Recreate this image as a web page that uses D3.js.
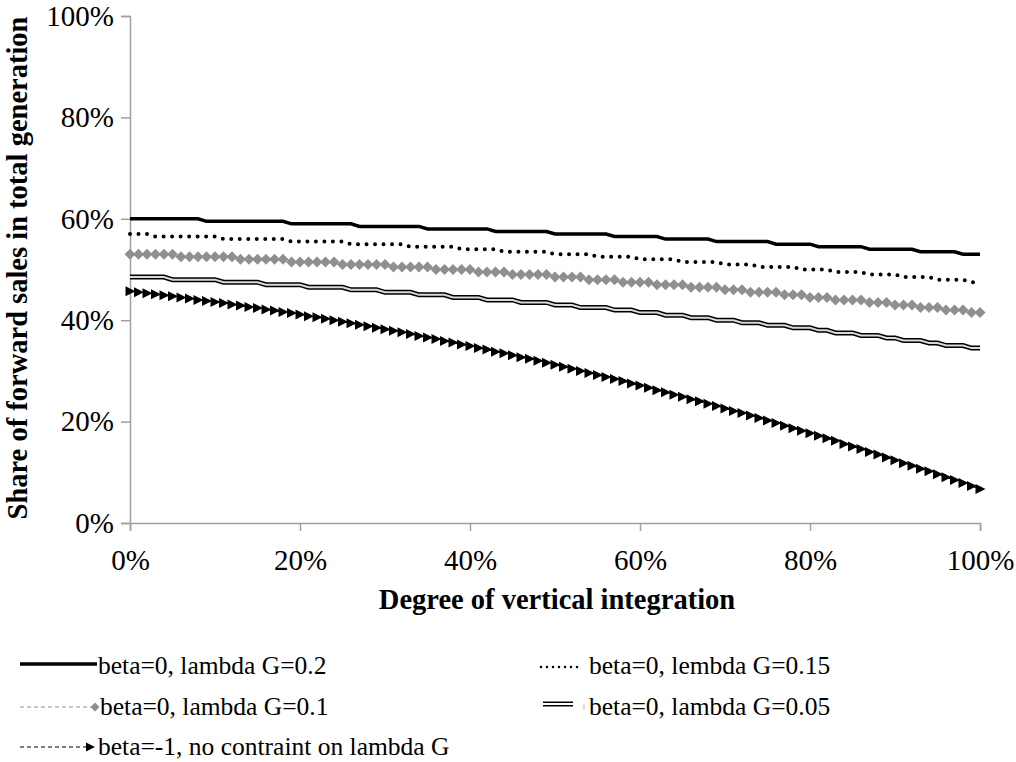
<!DOCTYPE html>
<html><head><meta charset="utf-8">
<script src="https://cdn.jsdelivr.net/npm/d3@7"></script>
<style>body{margin:0;background:#fff}svg{display:block}svg text{font-family:"Liberation Serif","Times New Roman",serif}</style>
</head><body><svg id="c" width="1016" height="762" font-family="Liberation Serif, serif"></svg>
<script>
// x: degree of vertical integration, in percent (0..100 step 1)
const xPoints = d3.range(0, 101);
const yTicks = [0, 20, 40, 60, 80, 100];
const xTicks = [0, 20, 40, 60, 80, 100];
const seriesNames = [
  "beta=0, lambda G=0.2",
  "beta=0, lembda G=0.15",
  "beta=0, lambda G=0.1",
  "beta=0, lambda G=0.05",
  "beta=-1, no contraint on lambda G"
];
const s1 = [60,60,60,60,60,60,60,60,60,
59.5,59.5,59.5,59.5,59.5,59.5,59.5,59.5,59.5,59.5,
59,59,59,59,59,59,59,59,
58.5,58.5,58.5,58.5,58.5,58.5,58.5,58.5,
58,58,58,58,58,58,58,58,
57.5,57.5,57.5,57.5,57.5,57.5,57.5,
57,57,57,57,57,57,57,
56.5,56.5,56.5,56.5,56.5,56.5,
56,56,56,56,56,56,
55.5,55.5,55.5,55.5,55.5,55.5,55.5,
55,55,55,55,55,
54.5,54.5,54.5,54.5,54.5,54.5,
54,54,54,54,54,54,
53.5,53.5,53.5,53.5,53.5,
53,53,53];
const s2 = [57,57,57,
56.5,56.5,56.5,56.5,56.5,56.5,56.5,56.5,
56,56,56,56,56,56,56,56,
55.5,55.5,55.5,55.5,55.5,55.5,55.5,
55,55,55,55,55,55,55,
54.5,54.5,54.5,54.5,54.5,54.5,
54,54,54,54,54,
53.5,53.5,53.5,53.5,53.5,53.5,
53,53,53,53,53,
52.5,52.5,52.5,52.5,52.5,
52,52,52,52,52,
51.5,51.5,51.5,51.5,51.5,
51,51,51,51,
50.5,50.5,50.5,50.5,50.5,
50,50,50,50,
49.5,49.5,49.5,49.5,
49,49,49,49,
48.5,48.5,48.5,48.5,
48,48,48,48,
47.5,47.5];
const s3 = [53,53,53,53,53,53,
52.5,52.5,52.5,52.5,52.5,52.5,52.5,
52,52,52,52,52,52,
51.5,51.5,51.5,51.5,51.5,51.5,
51,51,51,51,51,51,
50.5,50.5,50.5,50.5,50.5,
50,50,50,50,50,
49.5,49.5,49.5,49.5,
49,49,49,49,49,
48.5,48.5,48.5,48.5,
48,48,48,48,
47.5,47.5,47.5,47.5,
47,47,47,47,
46.5,46.5,46.5,46.5,
46,46,46,
45.5,45.5,45.5,45.5,
45,45,45,
44.5,44.5,44.5,
44,44,44,44,
43.5,43.5,43.5,
43,43,43,
42.5,42.5,42.5,
42,42,42,
41.5,41.5];
const s4 = [48.5,48.5,48.5,48.5,48.5,
48,48,48,48,48,48,
47.5,47.5,47.5,47.5,47.5,
47,47,47,47,47,
46.5,46.5,46.5,46.5,46.5,
46,46,46,46,
45.5,45.5,45.5,45.5,
45,45,45,45,
44.5,44.5,44.5,44.5,
44,44,44,44,
43.5,43.5,43.5,43.5,
43,43,43,
42.5,42.5,42.5,42.5,
42,42,42,
41.5,41.5,41.5,
41,41,41,
40.5,40.5,40.5,
40,40,40,
39.5,39.5,39.5,
39,39,39,
38.5,38.5,38.5,
38,38,
37.5,37.5,37.5,
37,37,37,
36.5,36.5,
36,36,36,
35.5,35.5,
35,35,35,
34.5,34.5];
const s5 = [45.7,45.5,45.3,45.1,44.9,44.7,44.5,44.3,44.0,43.8,
43.6,43.4,43.1,42.9,42.6,42.4,42.1,41.9,41.6,41.4,
41.1,40.8,40.6,40.3,40.0,39.7,39.4,39.1,38.8,38.5,
38.2,37.9,37.6,37.3,36.9,36.6,36.3,35.9,35.6,35.2,
34.9,34.5,34.2,33.8,33.5,33.1,32.7,32.4,32.0,31.6,
31.2,30.8,30.4,30.0,29.6,29.2,28.8,28.4,28.0,27.5,
27.1,26.7,26.2,25.8,25.3,24.9,24.4,24.0,23.5,23.1,
22.6,22.1,21.7,21.2,20.7,20.2,19.7,19.2,18.7,18.2,
17.7,17.2,16.7,16.2,15.6,15.1,14.6,14.0,13.5,12.9,
12.4,11.8,11.3,10.7,10.2,9.6,9.0,8.5,7.9,7.3,
6.7];

const FONT = '"Liberation Serif", "Times New Roman", serif';
const svg = d3.select("#c");
svg.append("rect").attr("width",1016).attr("height",762).attr("fill","#fff");

const x = d3.scaleLinear().domain([0,100]).range([130,980]);
const y = d3.scaleLinear().domain([0,100]).range([523,16]);
const AX = "#a0a0a0";

// Y axis
const gy = svg.append("g").attr("transform","translate(130,0)")
  .call(d3.axisLeft(y).tickValues(yTicks).tickSize(9).tickPadding(7).tickFormat(d=>d+"%"));
// X axis
const gx = svg.append("g").attr("transform","translate(0,523)")
  .call(d3.axisBottom(x).tickValues(xTicks).tickSize(8).tickPadding(18).tickFormat(d=>d+"%"));
[gx,gy].forEach(g=>{
  g.attr("font-family",FONT).attr("font-size",29);
  g.select(".domain").attr("stroke",AX).attr("stroke-width",1.5);
  g.selectAll(".tick line").attr("stroke",AX).attr("stroke-width",1.5);
  g.selectAll(".tick text").attr("fill","#000").attr("font-family",FONT).attr("font-size",29);
});

const line = d3.line().x((d,i)=>x(xPoints[i])).y(d=>y(d));
const plot = svg.append("g");

// series 4: double line
plot.append("path").datum(s4).attr("d",line).attr("fill","none").attr("stroke","#000").attr("stroke-width",5);
plot.append("path").datum(s4).attr("d",line).attr("fill","none").attr("stroke","#d9d9d9").attr("stroke-width",2);

// series 1: thick solid
plot.append("path").datum(s1).attr("d",line).attr("fill","none").attr("stroke","#000").attr("stroke-width",3.5);

// series 2: round dotted
plot.append("path").datum(s2).attr("d",line).attr("fill","none").attr("stroke","#000")
  .attr("stroke-width",4).attr("stroke-linecap","round").attr("stroke-dasharray","0,8.5");

// series 3: gray dashed with diamonds
const GRAY = "#8f8f8f";
plot.append("path").datum(s3).attr("d",line).attr("fill","none").attr("stroke",GRAY)
  .attr("stroke-width",1).attr("stroke-dasharray","4,3");
const diamond = "M0,-5.5L5.5,0L0,5.5L-5.5,0Z";
plot.selectAll(".dm").data(s3).join("path").attr("class","dm")
  .attr("transform",(d,i)=>`translate(${x(xPoints[i])},${y(d)})`).attr("d",diamond).attr("fill",GRAY);

// series 5: black dashed with right-pointing triangles
plot.append("path").datum(s5).attr("d",line).attr("fill","none").attr("stroke","#000")
  .attr("stroke-width",1).attr("stroke-dasharray","4,3");
const tri = "M-4.5,-5L5.5,0L-4.5,5Z";
plot.selectAll(".tr").data(s5).join("path").attr("class","tr")
  .attr("transform",(d,i)=>`translate(${x(xPoints[i])},${y(d)})`).attr("d",tri).attr("fill","#000");

// axis titles
svg.append("text").attr("x",557).attr("y",609).attr("text-anchor","middle")
  .attr("font-family",FONT).attr("font-size",28.5).attr("font-weight","bold")
  .text("Degree of vertical integration");
svg.append("text").attr("transform","translate(27,268) rotate(-90)").attr("text-anchor","middle")
  .attr("font-family",FONT).attr("font-size",28.5).attr("font-weight","bold")
  .text("Share of forward sales in total generation");

// legend
const leg = svg.append("g");
function legText(tx, ty, s){
  leg.append("text").attr("x",tx).attr("y",ty).attr("font-family",FONT).attr("font-size",25.5).text(s);
}
// row 1 left: solid
leg.append("line").attr("x1",20).attr("x2",97).attr("y1",664).attr("y2",664).attr("stroke","#000").attr("stroke-width",3.5);
legText(98,674,seriesNames[0]);
// row 1 right: dotted
leg.append("line").attr("x1",541).attr("x2",583).attr("y1",667).attr("y2",667).attr("stroke","#000")
  .attr("stroke-width",2.5).attr("stroke-linecap","round").attr("stroke-dasharray","0,6");
legText(589,674,seriesNames[1]);
// row 2 left: gray dashed + diamond
leg.append("line").attr("x1",20).attr("x2",91).attr("y1",707).attr("y2",707).attr("stroke",GRAY)
  .attr("stroke-width",1).attr("stroke-dasharray","4,3");
leg.append("path").attr("d","M0,-4.5L4.5,0L0,4.5L-4.5,0Z").attr("transform","translate(95,707)").attr("fill",GRAY);
legText(100,715,seriesNames[2]);
// row 2 right: double line
leg.append("line").attr("x1",543).attr("x2",573).attr("y1",704).attr("y2",704).attr("stroke","#000").attr("stroke-width",5);
leg.append("line").attr("x1",543).attr("x2",573).attr("y1",704).attr("y2",704).attr("stroke","#fff").attr("stroke-width",2);
leg.append("line").attr("x1",584).attr("x2",584).attr("y1",705).attr("y2",710).attr("stroke","#777")
  .attr("stroke-width",1.2).attr("stroke-dasharray","1,1.2");
legText(589,715,seriesNames[3]);
// row 3 left: black dashed + triangle
leg.append("line").attr("x1",20).attr("x2",86).attr("y1",747).attr("y2",747).attr("stroke","#000")
  .attr("stroke-width",1).attr("stroke-dasharray","4,3");
leg.append("path").attr("d","M-4,-4.5L5,0L-4,4.5Z").attr("transform","translate(90,747)").attr("fill","#000");
legText(98,755,seriesNames[4]);
</script></body></html>
